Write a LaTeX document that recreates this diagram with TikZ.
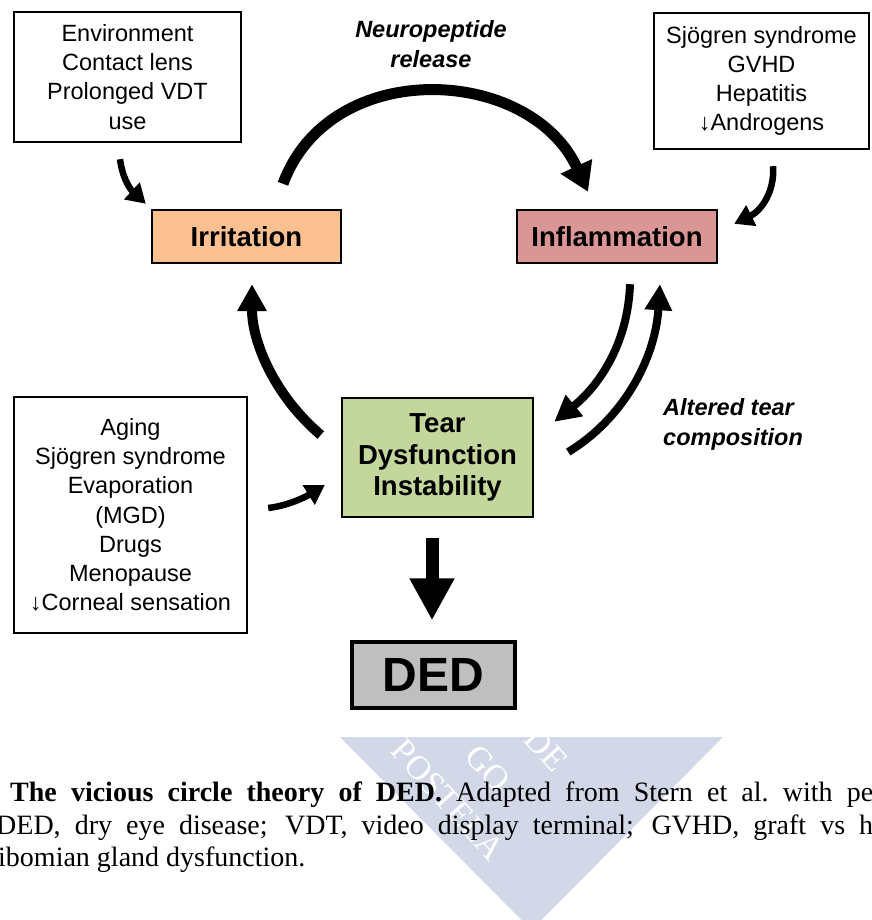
\documentclass[tikz,border=0pt]{standalone}
\usepackage{fontspec}
\setmainfont{Liberation Sans}
\newfontfamily\capfont{Liberation Serif}
\usetikzlibrary{arrows.meta,calc}
\definecolor{irrfill}{HTML}{FAC090}
\definecolor{inffill}{HTML}{D99694}
\definecolor{tearfill}{HTML}{C3D69B}
\definecolor{dedfill}{HTML}{BFBFBF}
\definecolor{wmark}{RGB}{210,216,232}
\begin{document}
\begin{tikzpicture}[x=1pt,y=-1pt,
  factor/.style={draw,line width=2.4pt,align=center,inner sep=0pt,
    font=\fontsize{23.5}{29.2}\selectfont},
  stage/.style={draw,line width=2.4pt,align=center,inner sep=0pt,
    font=\fontsize{27.5}{31.5}\selectfont\bfseries},
  note/.style={inner sep=0pt,font=\fontsize{23.5}{30}\selectfont\bfseries\itshape},
  caption/.style={anchor=base west,inner sep=0pt,font=\capfont\fontsize{28}{34}\selectfont},
  wmtext/.style={white,inner sep=0pt,rotate=-48,font=\capfont\fontsize{34}{34}\selectfont},
  smallarrow/.style={line width=6.5pt,-{Triangle[length=19pt,width=22pt]}},
  arcarrow/.style={line width=11pt,-{Triangle[length=28pt,width=33pt]}},
  looparrow/.style={line width=10pt,-{Triangle[length=27pt,width=28pt]}},
  pairarrow/.style={line width=8pt,-{Triangle[length=26pt,width=26pt]}},
  blockarrow/.style={line width=13pt,-{Triangle[length=42pt,width=42pt]}}]
\useasboundingbox (0,0) rectangle (871,920);

% watermark behind the caption
\fill[wmark] (340,737) -- (723,737) -- (531.5,930) -- cycle;
\begin{scope}
  \clip (340,737) -- (723,737) -- (531.5,930) -- cycle;
  \node[wmtext] (wmA) at (546,750) {DE};
  \node[wmtext] (wmB) at (488,768) {GO};
  \node[wmtext] (wmC) at (448,800) {POSTELA};
\end{scope}

% causes
\node[factor,minimum width=227pt,minimum height=130pt] (env) at (127.5,77)
  {Environment\\Contact lens\\Prolonged VDT\\use};
\node[factor,minimum width=215pt,minimum height=136pt] (sys) at (761.5,81)
  {Sjögren syndrome\\GVHD\\Hepatitis\\↓Androgens};
\node[factor,minimum width=233pt,minimum height=236pt] (ocular) at (130.5,515)
  {Aging\\Sjögren syndrome\\Evaporation\\(MGD)\\Drugs\\Menopause\\↓Corneal sensation};

% the cycle
\node[stage,fill=irrfill,minimum width=189pt,minimum height=53pt] (irr) at (246.5,236.5) {Irritation};
\node[stage,fill=inffill,minimum width=200pt,minimum height=53pt] (inf) at (617,236.5) {Inflammation};
\node[stage,fill=tearfill,minimum width=191pt,minimum height=119pt] (tear) at (437.5,457.5)
  {Tear\\Dysfunction\\Instability};
\node[draw,line width=3.2pt,fill=dedfill,minimum width=163pt,minimum height=66pt,inner sep=0pt,
  font=\fontsize{48}{50}\selectfont\bfseries] (ded) at (433.5,675) {DED};

% arrow labels
\node[note,align=center] (neuro) at (431,44.5) {Neuropeptide\\release};
\node[note,align=left,anchor=west] (alt) at (663,424) {Altered tear\\composition};

% connector ends
\coordinate (envOut) at ($(env.south)+(-7.5,16)$);
\coordinate (irrTop) at ($(irr.north west)+(-5,-5)$);
\coordinate (sysOut) at ($(sys.south)+(11.5,16)$);
\coordinate (infTop) at ($(inf.north east)+(16,15)$);
\coordinate (arcA) at ($(irr.north)+(36.5,-25)$);
\coordinate (arcB) at ($(inf.north)+(-29,-17)$);
\coordinate (tearUp) at ($(tear.west)+(-20,-22.5)$);
\coordinate (irrBot) at ($(irr.south)+(5.5,20)$);
\coordinate (ocuOut) at ($(ocular.east)+(20,-7)$);
\coordinate (tearIn) at ($(tear.west)+(-16,27.5)$);
\coordinate (infDown) at ($(inf.south)+(13,20)$);
\coordinate (tearNE) at ($(tear.north east)+(20,25)$);
\coordinate (tearOut) at ($(tear.east)+(34,-5.5)$);
\coordinate (infBot) at ($(inf.south)+(43,20)$);
\coordinate (dedA) at ($(tear.south)+(-5.5,20)$);
\coordinate (dedB) at ($(ded.north)+(-1.5,-20)$);

% connectors
\draw[smallarrow] (envOut) .. controls +(3,22) and +(-14,-13) .. (irrTop);
\draw[smallarrow] (sysOut) .. controls +(2,25) and +(27,-13) .. (infTop);
\draw[smallarrow] (ocuOut) .. controls +(18,-2) and +(-21,13) .. (tearIn);
\draw[arcarrow] (arcA) .. controls +(47,-128) and +(-58,-126) .. (arcB);
\draw[looparrow] (tearUp) .. controls +(-47,-40) and +(0,57) .. (irrBot);
\draw[pairarrow] (infDown) .. controls +(-2,57) and +(47,-38) .. (tearNE);
\draw[pairarrow] (tearOut) .. controls +(53,-32) and +(-5,77) .. (infBot);
\draw[blockarrow] (dedA) -- (dedB);

% caption
\node[caption] (cap1) at (10,801)
  {\makebox[863pt][s]{\textbf{The vicious circle theory of DED.} Adapted from Stern et al.\ with pe}};
\node[caption] (cap2) at (-4,834)
  {\makebox[877pt][s]{DED, dry eye disease; VDT, video display terminal; GVHD, graft vs h}};
\node[caption] (cap3) at (-2,866) {ibomian gland dysfunction.};
\end{tikzpicture}
\end{document}
